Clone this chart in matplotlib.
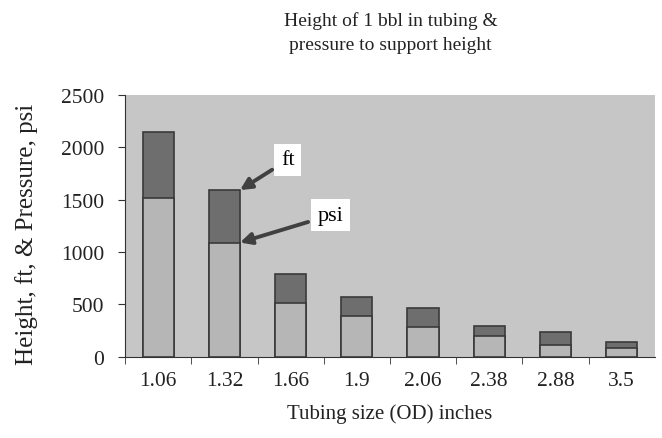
import matplotlib.pyplot as plt

plt.rcParams['font.family'] = ['Liberation Serif', 'DejaVu Serif']

tubingSizes = ['1.06', '1.32', '1.66', '1.9', '2.06', '2.38', '2.88', '3.5']
heightFt = [2140, 1590, 790, 570, 470, 295, 240, 138]
pressurePsi = [1515, 1090, 515, 390, 287, 201, 115, 83]

fig = plt.figure(figsize=(6.62, 4.39), dpi=100)
ax = fig.add_axes([0.189, 0.185, 0.800, 0.597])
ax.set_facecolor('#c6c6c6')

positions = list(range(len(tubingSizes)))
barWidth = 0.47

# ft bars sit behind, psi bars drawn over them from the axis up
ax.bar(positions, heightFt, width=barWidth, color='#6e6e6e', edgecolor='#3a3a3a', linewidth=1.2, zorder=2)
ax.bar(positions, pressurePsi, width=barWidth, color='#b6b6b6', edgecolor='#3a3a3a', linewidth=1.2, zorder=3)

ax.set_xlim(-0.5, len(tubingSizes) - 0.5)
ax.set_ylim(0, 2500)
ax.set_yticks([0, 500, 1000, 1500, 2000, 2500])
ax.set_xticks(positions)
ax.set_xticklabels(tubingSizes)
ax.set_xticks([p + 0.5 for p in positions[:-1]] + [-0.5], minor=True)
ax.tick_params(axis='x', which='major', length=0, pad=10, labelsize=15.5)
ax.tick_params(axis='x', which='minor', length=5, direction='out', color='#333333')
ax.tick_params(axis='y', length=5, direction='out', labelsize=15.5, pad=10, color='#333333')

for side in ['top', 'right']:
    ax.spines[side].set_visible(False)
ax.spines['left'].set_color('#333333')
ax.spines['bottom'].set_color('#333333')

ax.set_xlabel('Tubing size (OD) inches', fontsize=15, color='#222222', labelpad=10)
ax.set_ylabel('Height, ft, & Pressure, psi', fontsize=18, color='#222222')
ax.yaxis.set_label_coords(-0.165, 0.47)
fig.suptitle('Height of 1 bbl in tubing &\npressure to support height', x=0.59, y=0.972, fontsize=14, color='#222222', linespacing=1.55)

arrowStyle = dict(arrowstyle='-|>', lw=2.8, color='#404040', mutation_scale=17, shrinkA=2, shrinkB=0)
boxStyle = dict(boxstyle='square,pad=0.3', facecolor='white', edgecolor='none')
ax.annotate('ft', xy=(1 + barWidth / 2, heightFt[1]), xytext=(1.96, 1880),
            fontsize=16, ha='center', va='center', bbox=boxStyle, arrowprops=arrowStyle, zorder=5)
ax.annotate('psi', xy=(1 + barWidth / 2, pressurePsi[1]), xytext=(2.6, 1350),
            fontsize=16, ha='center', va='center', bbox=boxStyle, arrowprops=arrowStyle, zorder=5)

for label in ax.get_xticklabels() + ax.get_yticklabels():
    label.set_color('#222222')

fig.savefig('out.png', dpi=100)
